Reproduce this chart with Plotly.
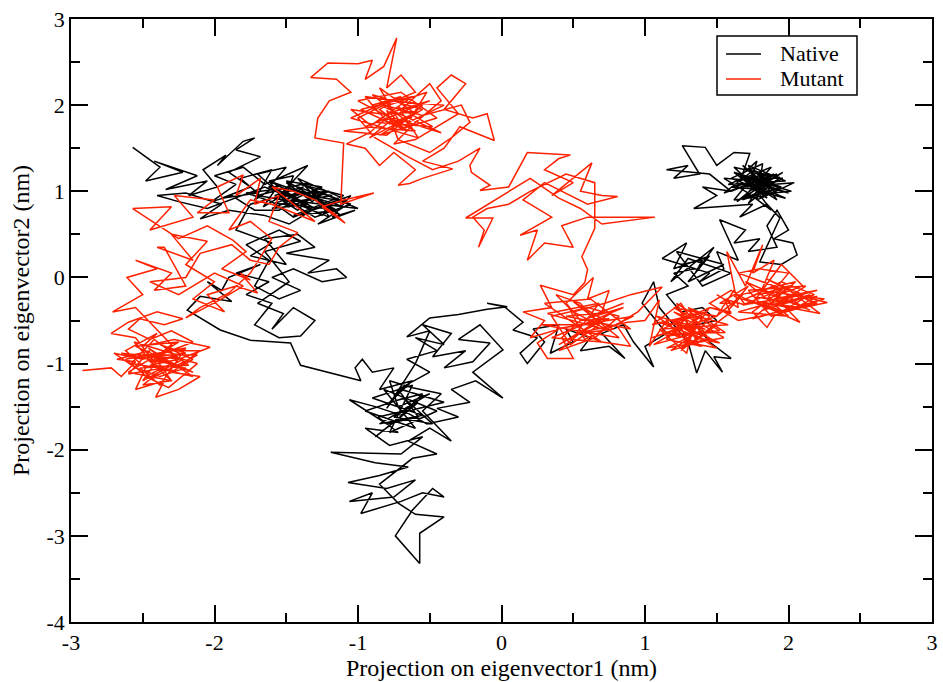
import plotly.graph_objects as go

# ---------------- data ----------------
native_top_left = [
    (-2.57,1.51),(-2.38,1.28),(-2.48,1.12),(-2.22,1.22),(-2.42,1.35),(-2.12,1.18),(-2.34,1.02),(-2.05,1.12),(-2.18,0.95),(-1.98,1.05),
    (-2.08,1.25),(-1.92,1.42),(-1.98,1.3),(-1.8,1.58),(-1.72,1.62),(-1.85,1.48),(-1.68,1.4),(-1.9,1.22),(-1.75,1.05),(-1.95,0.92),
    (-1.7,0.98),(-1.82,1.15),(-1.6,1.25),(-1.72,0.9),(-1.55,1.08),(-1.66,0.82),(-1.48,1.0),(-1.62,1.12),(-1.45,1.18),(-1.52,0.88),
    (-1.38,1.05),(-1.58,0.95),(-1.42,0.78),(-1.3,0.98),(-1.5,1.1),(-1.32,0.88),(-1.22,1.0),(-1.4,0.85),(-1.25,0.72),(-1.15,0.9),
    (-1.35,0.95),(-1.1,0.82),(-1.28,0.62),(-1.02,0.78),(-1.18,0.7),(-1.05,0.95),(-1.22,0.85),(-1.45,0.7),(-1.6,0.88),(-1.78,0.98),
    (-1.58,1.02),(-1.7,1.2),(-1.5,1.28),(-1.62,1.05),(-1.42,0.92),(-1.55,0.78),(-1.72,0.78),(-1.88,0.95),(-2.02,0.88),(-1.85,1.08),
    (-2.0,1.18),(-1.8,1.28),(-1.65,1.08),(-1.48,1.2),(-1.35,1.3),(-1.52,1.0),(-1.3,0.8),(-1.48,0.62),(-1.65,0.72),(-1.9,0.78),
    (-2.1,0.68),(-1.95,0.85),(-2.2,0.98),(-2.4,0.95),(-2.25,0.88),(-2.05,0.8),
]
native_top_left_core = [
    (-1.65,1.05),(-1.35,0.85),(-1.6,0.8),(-1.25,1.05),(-1.5,1.12),(-1.15,0.78),(-1.45,0.72),(-1.1,0.95),(-1.4,1.08),(-1.05,0.85),
    (-1.3,0.7),(-1.55,0.95),(-1.2,1.0),(-1.48,0.82),(-1.62,1.12),(-1.28,0.92),(-1.12,0.72),(-1.38,0.98),(-1.58,0.86),(-1.22,0.8),
    (-1.42,1.15),(-1.08,0.9),(-1.32,0.78),(-1.52,1.02),(-1.18,0.95),(-1.45,0.88),(-1.7,0.95),(-1.35,1.1),(-1.2,0.7),(-1.5,0.9),
    (-1.0,0.8),(-1.28,1.0),(-1.6,0.92),(-1.75,0.85),
]
native_mid_left = [
    (-1.85,0.55),(-1.6,0.4),(-1.75,0.25),(-1.5,0.15),(-1.65,0.45),(-1.42,0.5),(-1.3,0.35),(-1.5,0.28),(-1.2,0.2),(-1.35,0.05),
    (-1.15,0.1),(-1.08,0.0),(-1.25,-0.05),(-1.45,0.1),(-1.6,0.0),(-1.4,-0.15),(-1.55,-0.25),(-1.72,-0.1),(-1.62,0.2),(-1.78,0.38),
    (-1.55,0.55),(-1.4,0.42),(-1.65,0.3),(-1.48,-0.05),(-1.7,-0.3),(-1.52,-0.42),(-1.6,-0.6),(-1.45,-0.35),(-1.3,-0.5),(-1.4,-0.68),
    (-1.55,-0.7),(-1.72,-0.55),(-1.6,-0.3),(-1.78,-0.2),(-1.62,-0.05),(-1.85,0.05),(-1.68,0.15),(-1.9,0.0),(-1.95,-0.15),(-2.05,-0.05),
    (-1.88,-0.28),(-2.1,-0.22),(-2.19,-0.38),(-1.96,-0.61),(-1.75,-0.73),(-1.47,-0.76),(-1.4,-1.02),
]
native_center = [
    (-0.98,-1.2),(-1.02,-1.05),(-0.97,-0.95),(-0.9,-1.1),(-0.75,-1.05),(-0.85,-1.3),(-0.62,-1.2),(-0.78,-1.45),(-0.55,-1.35),(-0.7,-1.6),
    (-0.88,-1.5),(-1.06,-1.42),(-0.8,-1.7),(-0.58,-1.62),(-0.72,-1.3),(-0.5,-1.1),(-0.66,-0.95),(-0.45,-0.85),(-0.6,-0.7),(-0.4,-0.78),
    (-0.55,-0.55),(-0.35,-0.65),(-0.48,-0.92),(-0.25,-0.85),(-0.4,-1.05),(-0.2,-0.98),(-0.08,-0.76),(-0.3,-0.72),(-0.15,-0.55),(0.01,-0.84),
    (-0.2,-1.1),(0.01,-1.4),(-0.18,-1.2),(-0.35,-1.3),(-0.22,-1.45),(-0.45,-1.52),(-0.3,-1.62),(-0.52,-1.7),(-0.68,-1.55),(-0.86,-1.62),
    (-0.72,-1.8),(-0.95,-1.75),(-0.78,-1.95),(-0.55,-1.85),(-0.7,-2.05),(-1.19,-2.03),(-0.88,-2.15),(-0.65,-2.2),(-0.85,-2.3),(-1.07,-2.38),
    (-0.8,-2.45),(-0.6,-2.35),(-0.75,-2.55),(-1.06,-2.6),(-0.9,-2.5),(-0.98,-2.74),(-0.7,-2.6),(-0.55,-2.5),(-0.4,-2.55),(-0.48,-2.45),
    (-0.62,-2.7),(-0.74,-3.0),(-0.57,-3.32),(-0.57,-2.97),(-0.4,-2.78),(-0.6,-2.75),(-0.72,-2.62),(-0.85,-2.4),(-0.62,-2.1),(-0.45,-2.05),
    (-0.65,-1.9),(-0.5,-1.75),(-0.35,-1.9),(-0.55,-1.55),(-0.42,-1.35),(-0.62,-1.28),(-0.78,-1.2),
]
native_center_core = [
    (-0.72,-1.5),(-0.5,-1.35),(-0.85,-1.7),(-0.55,-1.6),(-0.9,-1.4),(-0.62,-1.25),(-0.78,-1.8),(-0.45,-1.55),(-0.82,-1.3),(-0.6,-1.75),
    (-0.95,-1.55),(-0.68,-1.4),(-0.48,-1.7),(-0.75,-1.62),(-0.58,-1.45),(-0.88,-1.85),(-0.65,-1.55),(-0.4,-1.45),(-0.7,-1.3),(-0.8,-1.52),
    (-0.6,-1.0),(-0.5,-0.62),(-0.66,-0.69),
]
native_center_exit = [
    (-0.5,-0.47),(-0.3,-0.43),(-0.1,-0.37),(0.04,-0.34),(-0.1,-0.3),
]
native_right = [
    (0.02,-0.34),(0.15,-0.52),(0.08,-0.61),(0.25,-0.7),(0.13,-0.88),(0.18,-1.0),(0.3,-0.75),(0.22,-0.6),(0.4,-0.55),(0.34,-0.88),
    (0.5,-0.75),(0.45,-0.6),(0.62,-0.7),(0.55,-0.85),(0.75,-0.8),(0.86,-0.94),(0.7,-0.65),(0.85,-0.55),(0.92,-0.75),(1.06,-1.04),
    (1.0,-0.8),(1.15,-0.65),(1.05,-0.45),(0.98,-0.3),(1.06,-0.05),(1.1,-0.35),(1.2,-0.55),(1.3,-0.75),(1.36,-1.11),(1.42,-0.85),
    (1.54,-1.1),(1.48,-0.92),(1.6,-0.94),(1.45,-0.75),(1.35,-0.55),(1.5,-0.5),(1.4,-0.35),(1.25,-0.4),(1.15,-0.2),(1.3,-0.1),
    (1.2,0.05),(1.35,0.1),(1.12,0.22),(1.29,0.4),(1.2,0.1),(1.45,0.25),(1.3,-0.05),(1.55,0.15),(1.22,0.3),(1.4,-0.1),
    (1.6,0.05),(1.3,0.22),(1.18,-0.05),(1.48,0.35),(1.35,0.05),(1.4,0.2),(1.25,0.15),(1.45,0.05),(1.38,-0.05),(1.55,0.1),
    (1.5,0.3),(1.65,0.2),(1.52,0.67),(1.7,0.55),(1.62,0.4),(1.8,0.45),(1.72,0.3),(1.92,0.35),(1.85,0.6),(1.92,0.78),
    (2.0,0.55),(1.9,0.45),(2.03,0.4),(2.06,0.26),(1.95,0.15),(1.8,0.18),(1.94,0.69),(1.85,0.85),
]
native_top_right = [
    (1.66,0.7),(1.75,0.85),(1.34,0.8),(1.5,0.95),(1.4,1.05),(1.6,1.0),(1.45,1.2),(1.15,1.25),(1.3,1.3),
    (1.2,1.15),(1.38,1.2),(1.26,1.53),(1.42,1.51),(1.5,1.3),(1.62,1.45),(1.73,1.44),(1.68,1.2),(1.78,1.35),(1.72,1.05),
    (1.85,1.2),(1.65,1.12),(1.82,0.98),(1.7,0.92),(1.9,1.08),(1.75,1.25),(1.88,1.15),(1.6,1.05),(1.8,1.02),(1.96,1.15),
    (1.7,1.15),(2.0,0.98),(1.78,1.08),(1.85,0.95),(1.62,0.9),(1.76,1.18),(1.9,1.0),(1.68,1.3),(1.8,1.12),(1.55,1.15),
    (1.72,0.98),(1.88,0.78),(1.78,1.0),(1.92,1.2),(1.75,1.1),
]
native_top_right_core = [
    (1.6,1.0),(1.9,1.2),(1.68,0.9),(1.95,1.05),(1.62,1.22),(1.85,0.92),(1.72,1.3),(1.98,1.12),(1.58,1.08),(1.88,1.28),
    (1.7,0.95),(2.02,1.0),(1.66,1.18),(1.92,0.9),(1.76,1.25),(1.55,0.98),(1.84,1.15),(1.64,0.88),(1.96,1.22),(1.74,1.02),
    (1.9,0.96),(1.6,1.15),(1.82,1.32),(1.78,0.9),(2.04,1.1),(1.68,1.05),(1.86,1.2),(1.72,0.86),(1.94,1.16),(1.62,1.28),
    (1.8,1.0),(1.98,0.92),(1.7,1.12),(1.88,1.06),
]

mutant_bottom_left = [
    (-2.92,-1.08),(-2.72,-1.05),(-2.65,-1.15),(-2.55,-0.98),(-2.68,-0.95),(-2.45,-0.85),(-2.6,-1.12),(-2.35,-1.05),(-2.5,-1.25),(-2.3,-1.2),
    (-2.42,-0.92),(-2.2,-0.88),(-2.38,-0.78),(-2.15,-0.95),(-2.3,-1.1),(-2.1,-1.15),(-2.25,-1.3),(-2.41,-1.39),(-2.35,-1.2),(-2.55,-1.3),
    (-2.48,-1.05),(-2.62,-0.85),(-2.4,-0.65),(-2.5,-0.8),(-2.28,-0.72),(-2.03,-0.81),(-2.25,-0.95),(-2.45,-1.02),(-2.2,-1.05),(-2.38,-1.15),
    (-2.55,-1.05),(-2.7,-0.88),(-2.5,-0.95),(-2.35,-0.88),(-2.15,-0.75),(-2.3,-0.62),(-2.45,-0.72),(-2.6,-0.6),(-2.52,-0.48),(-2.35,-0.55),
    (-2.22,-0.48),(-2.4,-0.4),(-2.6,-0.52),(-2.72,-0.65),(-2.55,-0.7),(-2.42,-0.98),(-2.28,-0.92),(-2.12,-1.0),(-2.32,-1.28),(-2.48,-1.15),
    (-2.3,-1.0),(-2.45,-0.9),
]
mutant_bottom_left_core = [
    (-2.4,-0.95),(-2.15,-1.1),(-2.55,-0.8),(-2.25,-0.75),(-2.6,-1.1),(-2.3,-1.2),(-2.5,-0.9),(-2.12,-0.9),(-2.45,-1.18),(-2.62,-0.95),
    (-2.2,-0.82),(-2.38,-1.25),(-2.52,-1.05),(-2.18,-1.02),(-2.42,-0.72),(-2.58,-1.0),(-2.28,-1.08),(-2.1,-0.85),(-2.35,-0.85),(-2.5,-1.2),
    (-2.22,-0.95),(-2.65,-0.88),(-2.32,-1.0),(-2.46,-0.82),(-2.15,-1.15),(-2.4,-1.05),(-2.56,-0.75),(-2.26,-0.9),(-2.44,-0.98),(-2.3,-0.78),
]
mutant_left = [
    (-2.55,-0.35),(-2.71,-0.4),(-2.5,-0.2),(-2.61,0.0),(-2.4,0.1),(-2.55,0.2),(-2.3,0.05),(-2.42,-0.15),(-2.2,-0.1),(-2.35,0.35),
    (-2.4,0.35),(-2.15,0.2),(-2.3,0.5),(-2.05,0.42),(-2.2,0.15),(-2.0,-0.05),(-2.15,-0.25),(-1.93,-0.4),(-2.05,-0.2),(-1.85,-0.1),
    (-1.7,-0.18),(-1.82,0.05),(-1.75,-0.03),(-1.95,0.1),(-1.78,0.3),(-1.87,0.43),(-2.05,0.6),(-2.25,0.45),(-2.57,0.8),(-2.3,0.82),
    (-2.45,0.55),(-2.15,0.7),(-2.28,0.95),(-2.0,0.9),(-2.12,0.75),(-1.9,0.75),(-1.98,1.05),(-1.8,1.19),(-1.85,0.95),(-1.68,1.15),
    (-1.72,0.85),(-1.55,0.95),(-1.62,0.65),(-1.42,0.52),(-1.55,0.35),(-1.62,0.15),(-1.75,0.2),(-1.88,0.38),(-2.1,0.28),(-2.2,0.0),
    (-2.45,-0.05),(-2.25,-0.2),(-2.0,0.05),(-1.8,-0.1),(-1.95,-0.25),(-2.2,-0.47),(-2.1,-0.35),(-1.9,-0.18),(-1.75,0.05),(-1.6,0.45),
    (-1.75,0.65),(-1.9,0.55),(-1.75,0.9),(-1.6,0.85),(-1.45,0.75),(-1.3,0.65),(-1.45,0.85),(-1.6,1.05),(-1.45,1.0),(-1.3,0.9),
    (-1.15,0.72),(-1.09,0.63),(-1.25,0.82),(-1.1,0.9),(-0.89,0.98),(-1.12,0.85),(-1.1,1.56),
]
mutant_top = [
    (-1.3,1.62),(-1.28,1.85),(-1.2,2.05),(-1.05,2.15),(-1.15,2.3),(-1.33,2.32),(-1.21,2.49),(-1.0,2.48),(-0.9,2.52),
    (-0.95,2.3),(-0.82,2.45),(-0.73,2.78),(-0.8,2.2),(-0.7,2.35),(-0.6,2.15),(-0.75,2.05),(-0.95,2.1),(-0.85,1.9),(-1.05,1.95),
    (-0.9,1.75),(-1.1,1.7),(-0.8,1.65),(-0.65,1.85),(-0.55,2.0),(-0.7,1.95),(-0.5,2.25),(-0.42,2.05),(-0.6,1.8),(-0.75,1.55),
    (-0.6,1.6),(-0.45,1.75),(-0.3,1.9),(-0.45,2.2),(-0.35,2.35),(-0.25,2.25),(-0.4,1.95),(-0.2,1.85),(-0.1,1.9),(-0.05,1.59),
    (-0.29,1.75),(-0.4,1.5),(-0.55,1.35),(-0.34,1.26),(-0.55,1.15),(-0.64,1.09),(-0.72,1.07),(-0.6,1.25),(-0.75,1.45),(-0.85,1.3),
    (-0.95,1.5),(-1.08,1.55),(-0.92,1.68),(-0.8,1.85),(-0.65,1.7),(-0.85,1.95),(-0.7,2.1),(-0.9,2.0),(-0.78,1.78),(-0.58,1.92),
]
mutant_top_core = [
    (-0.8,1.9),(-0.5,2.05),(-0.95,1.75),(-0.6,1.7),(-1.0,2.05),(-0.7,2.15),(-0.45,1.85),(-0.85,1.65),(-0.55,1.95),(-0.9,2.12),
    (-0.65,1.8),(-0.4,2.0),(-0.78,2.05),(-1.05,1.85),(-0.58,1.62),(-0.72,1.98),(-0.48,1.75),(-0.88,1.8),(-0.62,2.1),(-0.98,1.95),
    (-0.68,1.72),(-0.52,2.15),(-0.82,1.98),(-0.42,1.68),(-0.75,1.85),(-0.92,1.62),(-0.6,1.9),(-0.85,2.2),(-0.7,1.78),(-0.8,1.94),
]
mutant_top_exit = [
    (-0.72,1.6),(-0.5,1.45),(-0.35,1.62),(-0.22,1.8),(-0.28,2.0),(-0.55,1.88),(-0.82,2.0),(-1.0,1.85),(-0.88,1.62),(-0.65,1.4),
    (-0.48,1.25),(-0.3,1.35),(-0.15,1.5),(-0.22,1.3),
]
mutant_middle = [
    (-0.21,1.22),(-0.08,1.07),(-0.15,1.01),(0.05,1.05),(0.18,1.45),(0.48,1.42),(0.4,1.38),(0.3,1.25),(0.5,1.1),(0.35,0.95),
    (0.63,1.33),(0.55,1.0),(0.7,0.95),(0.81,0.94),(0.6,0.85),(0.3,1.1),(0.15,0.9),(0.35,0.7),(0.13,0.49),(0.25,0.55),
    (0.18,0.2),(0.3,0.4),(0.5,0.35),(0.42,0.6),(0.6,0.7),(1.07,0.7),(0.7,0.62),(0.55,0.8),(0.4,0.92),(0.2,1.15),
    (-0.25,0.69),(-0.06,0.69),(-0.16,0.35),(-0.12,0.55),(-0.2,0.7),(-0.1,0.8),(0.05,0.85),(0.2,1.0),(0.45,1.2),(0.65,1.1),
    (0.65,0.57),(0.56,0.24),(0.6,0.09),(0.58,-0.06),
]
mutant_right_a = [
    (0.5,-0.2),(0.27,-0.09),(0.35,-0.35),(0.15,-0.4),(0.3,-0.5),(0.2,-0.7),(0.4,-0.6),(0.25,-0.76),(0.32,-0.94),(0.5,-0.94),
    (0.42,-0.7),(0.55,-0.5),(0.45,-0.3),(0.64,-0.0),(0.6,-0.25),(0.75,-0.15),(0.7,-0.4),(0.85,-0.3),(0.62,-0.45),(0.78,-0.6),
    (0.55,-0.65),(0.7,-0.75),(0.9,-0.8),(0.8,-0.55),(0.95,-0.4),(1.12,-0.11),(0.9,-0.2),(0.72,-0.3),(0.5,-0.4),(0.38,-0.2),
    (0.55,-0.3),(0.68,-0.55),(0.48,-0.78),(0.35,-0.45),(0.6,-0.35),(0.82,-0.45),(0.65,-0.7),(0.4,-0.85),(0.58,-0.6),(0.75,-0.48),
]
mutant_right_a_core = [
    (0.55,-0.5),(0.85,-0.35),(0.35,-0.7),(0.7,-0.75),(0.3,-0.3),(0.62,-0.25),(0.9,-0.6),(0.45,-0.45),(0.78,-0.4),(0.4,-0.78),
    (0.65,-0.55),(0.28,-0.55),(0.82,-0.7),(0.5,-0.28),(0.72,-0.5),(0.38,-0.6),(0.92,-0.45),(0.58,-0.72),(0.48,-0.38),(0.75,-0.62),
    (0.32,-0.42),(0.68,-0.3),(0.52,-0.65),(0.88,-0.52),(1.0,-0.5),
]
mutant_right_b = [
    (1.1,-0.26),(1.03,-0.8),(1.15,-0.5),(1.25,-0.7),(1.1,-0.6),(1.29,-0.88),(1.35,-0.5),(1.2,-0.4),(1.4,-0.6),(1.25,-0.55),
    (1.52,-0.76),(1.35,-0.7),(1.45,-0.45),(1.3,-0.35),(1.56,-0.64),(1.2,-0.65),(1.4,-0.8),(1.15,-0.72),(1.3,-0.45),(1.05,-0.55),
    (1.25,-0.3),(1.38,-0.62),(1.18,-0.85),(1.45,-0.7),(1.28,-0.6),(1.5,-0.55),(1.32,-0.78),(1.22,-0.5),(1.42,-0.4),
]
mutant_right_b_core = [
    (1.3,-0.55),(1.05,-0.7),(1.5,-0.45),(1.2,-0.35),(1.55,-0.7),(1.15,-0.82),(1.42,-0.6),(1.08,-0.45),(1.38,-0.8),(1.25,-0.4),
    (1.58,-0.55),(1.12,-0.6),(1.45,-0.35),(1.28,-0.75),(1.5,-0.82),(1.18,-0.5),(1.4,-0.45),(1.06,-0.78),(1.34,-0.65),(1.22,-0.3),
    (1.52,-0.62),(1.15,-0.68),(1.32,-0.42),(1.46,-0.75),(1.1,-0.52),(1.36,-0.58),(1.25,-0.85),(1.6,-0.4),
]
mutant_bridge = [
    (1.45,-0.35),(1.6,-0.42),(1.55,-0.25),(1.7,-0.32),(1.62,-0.15),(1.5,-0.45),(1.68,-0.2),(1.58,-0.38),(1.72,-0.1),(1.52,-0.3),
    (1.6,-0.3),
]
mutant_right_c = [
    (1.5,-0.2),(1.65,-0.35),(1.57,0.3),(1.7,-0.1),(1.82,0.38),(1.75,0.05),(1.9,0.2),(1.8,-0.2),(2.0,-0.1),(1.85,-0.35),
    (2.08,-0.52),(1.95,-0.3),(2.15,-0.2),(1.9,-0.45),(1.85,-0.58),(1.75,-0.4),(1.95,-0.15),(2.1,-0.35),(2.27,-0.29),(2.05,-0.2),
    (2.2,-0.3),(1.98,-0.4),(1.7,-0.25),(1.9,-0.1),(1.65,0.05),(1.8,0.1),(2.0,0.05),(1.85,-0.25),(2.1,-0.1),(1.95,0.15),
    (1.75,-0.3),(1.6,-0.15),(1.45,-0.3),(1.65,-0.5),(1.8,-0.45),(2.05,-0.35),(2.2,-0.22),(1.92,-0.28),
]
mutant_right_c_core = [
    (1.9,-0.25),(2.2,-0.15),(1.65,-0.4),(2.0,-0.45),(1.7,-0.05),(2.15,-0.38),(1.8,-0.15),(2.25,-0.25),(1.75,-0.48),(2.05,-0.05),
    (1.62,-0.22),(1.95,-0.4),(2.18,-0.3),(1.85,-0.02),(2.1,-0.2),(1.68,-0.32),(1.98,-0.12),(2.22,-0.42),(1.78,-0.28),(2.08,-0.35),
    (1.88,-0.45),(1.72,-0.15),(2.12,-0.1),(1.92,-0.32),(2.02,-0.22),(1.82,-0.38),(2.18,-0.2),(1.95,-0.05),(1.75,-0.22),(2.05,-0.3),
]

native_pts = (native_top_left + native_top_left_core + native_mid_left + native_center
              + native_center_core + native_center_exit + native_right
              + native_top_right + native_top_right_core)
mutant_pts = (mutant_bottom_left + mutant_bottom_left_core + mutant_left + mutant_top + mutant_top_core
              + mutant_top_exit + mutant_middle + mutant_right_a + mutant_right_a_core
              + mutant_right_b + mutant_right_b_core + mutant_bridge + mutant_right_c + mutant_right_c_core)

series_names = ["Native", "Mutant"]
x_ticks = [-3, -2, -1, 0, 1, 2, 3]
y_ticks = [-4, -3, -2, -1, 0, 1, 2, 3]

FONT = "Liberation Serif, Times New Roman, serif"
RED = "#ff2200"
colors = ["black", RED]

fig = go.Figure()
for name, pts, col in zip(series_names, [native_pts, mutant_pts], colors):
    fig.add_trace(go.Scatter(x=[p[0] for p in pts], y=[p[1] for p in pts],
                             mode="lines", name=name, line=dict(color=col, width=1.5),
                             showlegend=False))

axis_common = dict(showgrid=False, zeroline=False, showline=True, linecolor="black", linewidth=1.5,
                   mirror="ticks", ticks="inside", ticklen=17, tickwidth=1.5, tickcolor="black",
                   tickfont=dict(family=FONT, size=22, color="black"),
                   minor=dict(ticks="inside", ticklen=9, tickwidth=1.5, tickcolor="black", dtick=0.5, showgrid=False))

fig.update_xaxes(range=[-3, 3], tickvals=x_ticks, ticktext=[str(v) for v in x_ticks],
                 title=dict(text="Projection on eigenvector1 (nm)", font=dict(family=FONT, size=24, color="black"), standoff=0),
                 **axis_common)
fig.update_yaxes(range=[-4, 3], tickvals=y_ticks, ticktext=[str(v) for v in y_ticks],
                 title=dict(text="Projection on eigenvector2 (nm)", font=dict(family=FONT, size=24, color="black"), standoff=10),
                 **axis_common)

# legend box drawn in paper coordinates (Grace-style legend)
lx0, lx1, ly0, ly1 = 0.7503, 0.9129, 0.8740, 0.9718
fig.add_shape(type="rect", xref="paper", yref="paper", x0=lx0, x1=lx1, y0=ly0, y1=ly1,
              line=dict(color="black", width=1.5), fillcolor="white", layer="above")
for name, col, yy in zip(series_names, colors, [0.9420, 0.9005]):
    fig.add_shape(type="line", xref="paper", yref="paper", x0=0.7608, x1=0.8014, y0=yy, y1=yy,
                  line=dict(color=col, width=1.5), layer="above")
    fig.add_annotation(xref="paper", yref="paper", x=0.8211, y=yy, text=name, showarrow=False,
                       xanchor="left", yanchor="middle", font=dict(family=FONT, size=22, color="black"))

fig.update_layout(
    width=943, height=682,
    margin=dict(l=71, r=11, t=19, b=60, autoexpand=False),
    paper_bgcolor="white", plot_bgcolor="white",
    font=dict(family=FONT, size=22, color="black"),
    showlegend=False,
)

fig.write_html("out.html", config={"displayModeBar": False},
               post_script="document.body.style.margin='0';document.body.style.padding='0';document.body.style.overflow='hidden';")
